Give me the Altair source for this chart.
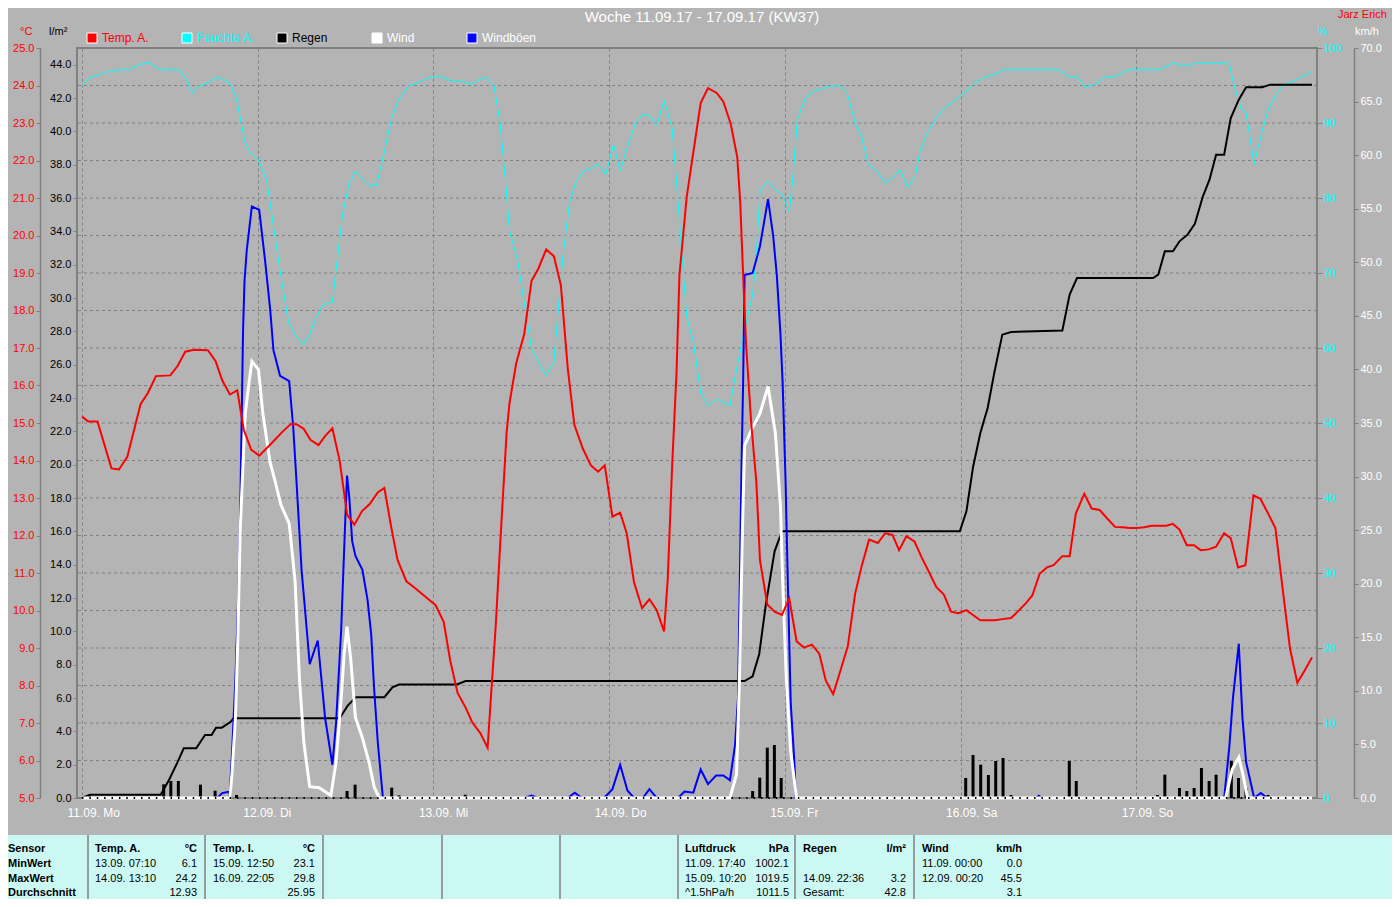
import altair as alt
import pandas as pd

# ---------------- data (hours since 11.09. 00:00) ----------------
temp_h = [0.0, 0.86, 2.12, 4.02, 5.06, 6.19, 8.0, 9.0, 10.1, 12.06, 13.05, 14.1, 15.3, 17.2, 18.25,
          19.15, 20.2, 21.2, 22.1, 23.1, 24.2, 25.7, 27.3, 28.5, 29.3, 30.3, 31.2, 32.3, 33.2, 34.2,
          35.2, 36.2, 37.2, 38.25, 39.3, 40.4, 41.3, 42.2, 43.1, 44.3, 45.35, 46.7, 48.3, 49.4, 50.3,
          51.3, 52.4, 53.3, 54.4, 55.4, 55.96, 56.5, 57.1, 57.45, 58.0, 58.4, 59.3, 60.4, 61.4, 62.3,
          63.4, 64.45, 65.4, 66.35, 67.25, 68.4, 69.5, 70.5, 71.4, 72.45, 73.5, 74.4, 75.4, 76.5, 77.5,
          78.5, 79.5, 80.0, 80.6, 81.2, 81.6, 82.1, 82.6, 83.5, 84.5, 85.5, 86.7, 87.6, 88.6, 89.5,
          89.9, 90.3, 90.7, 91.4, 92.1, 92.6, 93.6, 94.6, 95.6, 96.6, 97.6, 98.6, 99.7, 100.7, 101.6,
          102.6, 103.6, 104.6, 105.6, 106.5, 107.5, 108.7, 109.7, 110.7, 111.6, 112.6, 113.7, 114.7,
          115.7, 116.7, 117.7, 118.7, 119.7, 120.8, 121.7, 122.7, 123.7, 124.7, 125.7, 126.9, 127.8,
          128.9, 129.8, 130.8, 131.8, 132.7, 133.9, 134.9, 135.75, 136.9, 137.9, 139.0, 140.0, 141.1,
          142.1, 143.1, 144.0, 145.1, 146.1, 147.0, 148.1, 149.0, 149.9, 150.9, 151.9, 152.8, 153.9,
          154.9, 156.0, 156.9, 157.9, 158.9, 160.0, 160.95, 162.0, 163.0, 164.0, 165.0, 166.0, 167.0, 168.0]
temp_v = [15.17, 15.04, 15.04, 13.79, 13.76, 14.1, 15.5, 15.8, 16.25, 16.27, 16.52, 16.9, 16.95, 16.94, 16.65,
          16.14, 15.76, 15.87, 14.82, 14.29, 14.13, 14.42, 14.75, 14.97, 14.97, 14.84, 14.55, 14.41, 14.65, 14.86,
          13.99, 12.56, 12.29, 12.65, 12.84, 13.15, 13.27, 12.26, 11.35, 10.78, 10.62, 10.4, 10.14, 9.7, 8.66,
          7.8, 7.41, 7.02, 6.73, 6.34, 8.0, 9.56, 11.7, 12.9, 14.75, 15.54, 16.59, 17.37, 18.79, 19.1,
          19.63, 19.45, 18.68, 16.45, 14.95, 14.32, 13.87, 13.7, 13.87, 12.5, 12.61, 12.06, 10.75, 10.06, 10.3,
          10.01, 9.44, 10.82, 13.83, 16.32, 18.94, 19.99, 21.04, 22.22, 23.53, 23.93, 23.8, 23.57, 22.98, 22.09,
          20.91, 18.94, 17.11, 15.01, 13.44, 11.34, 10.16, 9.97, 9.88, 10.32, 9.18, 9.01, 9.09, 8.85, 8.13,
          7.77, 8.4, 9.05, 10.45, 11.19, 11.89, 11.8, 12.06, 12.02, 11.61, 11.98, 11.84, 11.41,
          11.02, 10.62, 10.43, 9.97, 9.93, 10.01, 9.88, 9.74, 9.74, 9.74, 9.77, 9.8, 9.97,
          10.19, 10.4, 10.98, 11.15, 11.21, 11.45, 11.45, 12.59, 13.11, 12.72, 12.68, 12.46, 12.23,
          12.22, 12.2, 12.2, 12.22, 12.26, 12.26, 12.26, 12.31, 12.16, 11.74, 11.74, 11.61, 11.63,
          11.7, 12.06, 11.93, 11.15, 11.21, 13.07, 12.98, 12.59, 12.2, 10.56, 8.98, 8.07, 8.4, 8.75]

hum_h = [0.05, 1.1, 2.4, 3.8, 5.15, 6.3, 7.4, 8.5, 9.44, 10.6, 11.9, 13.3, 14.2, 15.1, 16.0, 17.1, 18.3,
         19.15, 20.2, 21.1, 21.6, 22.2, 23.0, 24.1, 25.25, 26.15, 27.15, 28.2, 29.1, 30.2, 31.1, 32.0,
         32.95, 34.2, 34.7, 35.6, 36.45, 37.35, 38.3, 39.25, 40.2, 41.3, 42.3, 43.3, 44.6, 46.0, 47.4,
         48.95, 50.5, 52.1, 53.2, 54.4, 55.3, 56.3, 57.1, 57.8, 58.4, 59.5, 60.5, 61.4, 62.5, 63.4,
         64.45, 65.0, 65.7, 66.6, 67.5, 68.5, 69.5, 70.5, 71.5, 72.6, 73.5, 74.5, 75.6, 76.6, 77.5,
         78.5, 79.5, 80.6, 81.2, 81.9, 82.6, 83.5, 84.5, 85.5, 86.7, 88.5, 89.4, 90.5, 91.6, 92.1,
         92.6, 93.7, 94.6, 95.6, 96.6, 97.1, 97.7, 98.8, 100.1, 101.1, 102.4, 103.6, 104.5, 105.6,
         106.5, 107.4, 108.6, 109.7, 110.8, 111.7, 112.8, 113.8, 114.5, 115.6, 116.7, 117.8, 119.2,
         120.6, 121.9, 123.3, 124.6, 126.0, 129.6, 133.4, 135.0, 135.9, 136.9, 138.4, 139.7, 141.3,
         142.9, 147.2, 149.0, 150.8, 152.2, 156.7, 157.2, 158.3, 159.0, 160.1, 161.2, 162.1, 163.2,
         164.3, 166.2, 168.0]
hum_v = [94.95, 96.07, 96.46, 96.9, 97.1, 97.1, 97.57, 98.0, 97.9, 97.1, 97.1, 97.05, 95.9, 93.97, 94.95, 95.3, 96.07,
         95.9, 95.3, 93.3, 90.7, 87.7, 86.0, 85.1, 82.2, 76.3, 69.7, 63.5, 61.8, 60.4, 61.8, 64.1,
         65.8, 66.1, 70.4, 77.9, 81.8, 83.6, 82.5, 81.8, 81.6, 86.2, 90.7, 93.2, 94.95, 95.4, 96.07,
         96.26, 95.6, 95.5, 95.15, 95.9, 96.07, 94.8, 90.0, 82.8, 75.6, 71.7, 65.4, 59.9, 57.9, 56.3,
         58.2, 64.5, 72.3, 79.5, 82.2, 83.6, 84.0, 84.5, 83.1, 87.1, 83.6, 86.8, 89.9, 91.2, 91.0,
         89.7, 93.0, 89.4, 82.2, 73.0, 64.1, 60.85, 54.0, 52.3, 53.2, 52.3, 57.2, 62.5, 67.1, 72.3,
         80.9, 82.2, 81.2, 80.5, 78.2, 82.8, 90.4, 93.3, 94.3, 94.6, 94.95, 94.95, 94.0, 90.0,
         88.1, 84.5, 83.5, 82.0, 82.7, 83.8, 81.4, 82.8, 86.4, 89.0, 90.7, 92.0, 93.0,
         94.1, 95.4, 96.07, 96.5, 97.1, 97.1, 97.1, 96.07, 96.26, 94.8, 95.15, 96.07, 96.26,
         97.1, 97.1, 98.0, 97.6, 98.0, 97.9, 95.6, 91.9, 91.3, 84.5, 89.0, 92.0, 94.0,
         95.15, 95.9, 96.9]

rain_sum_h = [0.0, 1.1, 10.75, 11.9, 13.05, 13.9, 15.6, 16.8, 17.7, 18.3, 19.1, 20.3, 20.7, 35.2, 36.3,
              37.4, 41.3, 42.4, 43.3, 51.2, 52.4, 90.5, 91.6, 92.5, 93.4, 94.6, 95.6, 119.9, 120.8,
              121.7, 122.7, 123.7, 124.6, 125.7, 126.9, 133.9, 134.9, 135.9, 146.3, 147.0, 147.9,
              149.0, 149.9, 151.0, 152.0, 153.1, 154.0, 154.9, 156.0, 156.9, 158.0, 159.0, 161.2,
              162.3, 168.0]
rain_sum_v = [0.0, 0.2, 0.2, 1.1, 2.15, 2.98, 2.98, 3.78, 3.78, 4.22, 4.22, 4.57, 4.78, 4.78, 5.55,
              6.05, 6.05, 6.64, 6.81, 6.81, 7.02, 7.02, 7.3, 8.64, 11.6, 14.8, 16.0, 16.0, 17.2,
              19.85, 21.9, 23.4, 25.5, 27.8, 27.96, 28.05, 30.2, 31.2, 31.2, 31.4, 32.8,
              32.8, 33.4, 33.8, 34.45, 36.1, 37.1, 38.6, 38.6, 40.8, 41.9, 42.65, 42.65,
              42.8, 42.8]

rain_h = [1.0, 11.16, 12.13, 13.16, 16.18, 18.18, 20.2, 21.1, 36.2, 37.3, 42.3, 43.3, 52.35,
          91.6, 92.57, 93.6, 94.57, 95.5, 120.7, 121.7, 122.75, 123.8, 124.8, 125.8, 126.9,
          134.85, 135.8, 146.9, 147.9, 149.9, 150.9, 151.9, 152.9, 153.95, 154.9, 156.98,
          157.96, 158.98, 162.0]
rain_v = [0.2, 0.82, 1.02, 1.02, 0.8, 0.44, 0.42, 0.18, 0.42, 0.8, 0.62, 0.16, 0.2,
          0.42, 1.22, 3.02, 3.18, 1.2, 1.2, 2.58, 2.0, 1.38, 2.22, 2.4, 0.18,
          2.22, 1.02, 0.18, 1.4, 0.6, 0.42, 0.6, 1.8, 1.02, 1.4, 2.22,
          1.2, 0.6, 0.18]

wind_h = [0.0, 20.2, 20.5, 20.96, 21.3, 21.6, 22.0, 22.3, 22.8, 23.2, 24.1, 24.7, 25.7, 26.4, 27.15,
          28.3, 29.1, 29.7, 30.3, 31.1, 32.4, 34.0, 34.7, 35.4, 35.8, 36.2, 36.7, 37.35, 38.3, 39.2,
          39.9, 40.6, 88.5, 89.4, 89.8, 90.2, 90.5, 91.6, 92.6, 93.7, 94.7, 95.4, 95.7, 96.2, 96.8,
          97.6, 156.2, 157.1, 158.0, 158.5, 159.2, 168.0]
wind_v = [0, 0, 2.4, 7.5, 15.3, 24.9, 31.3, 35.9, 38.7, 40.75, 40.0, 35.9, 31.3, 29.5, 27.4,
          25.6, 20.3, 11.15, 5.2, 1.05, 0.96, 0.23, 3.35, 9.3, 13.4, 16.0, 13.0, 7.5, 5.6, 3.35,
          1.05, 0, 0, 2.2, 11.15, 24.9, 32.9, 34.6, 35.9, 38.4, 34.1, 27.2, 20.3, 11.15, 4.3,
          0, 0, 2.66, 3.8, 2.4, 0, 0]

gust_h = [0.0, 18.47, 19.15, 20.2, 20.5, 20.96, 21.3, 21.6, 22.0, 22.2, 22.5, 23.2, 24.2, 25.0, 25.7,
          26.15, 27.05, 28.3, 28.85, 29.3, 30.0, 30.7, 31.1, 32.2, 33.2, 34.2, 34.7, 35.4, 35.9,
          36.2, 36.5, 36.9, 37.35, 38.3, 39.0, 39.5, 39.9, 40.4, 41.1, 60.4, 61.4, 62.3, 66.35,
          67.3, 68.3, 71.3, 72.45, 73.5, 74.5, 75.4, 76.6, 77.5, 78.5, 81.4, 82.3, 83.5, 84.5,
          85.5, 86.6, 87.6, 88.5, 89.2, 89.6, 89.8, 90.1, 90.3, 90.5, 91.6, 92.6, 93.7, 94.4,
          94.9, 95.4, 95.7, 96.1, 96.4, 96.8, 97.3, 97.5, 130.3, 130.7, 131.1, 156.0, 156.7,
          157.2, 158.0, 158.5, 159.0, 160.1, 161.0, 161.9, 168.0]
gust_v = [0, 0, 0.46, 0.6, 4.3, 11.15, 18.0, 26.3, 43.7, 48.3, 51.1, 55.2, 54.9, 50.2, 45.6,
          41.8, 39.4, 38.9, 34.6, 29.5, 21.2, 15.7, 12.5, 14.7, 7.5, 3.1, 7.0, 15.7, 24.9,
          30.1, 28.1, 24.0, 22.6, 21.3, 18.5, 15.3, 10.2, 5.2, 0, 0, 0.23, 0, 0,
          0.5, 0, 0, 0.83, 3.1, 0.7, 0, 0, 0.83, 0, 0, 0.6, 0.5, 2.66,
          1.3, 2.1, 2.1, 1.65, 4.96, 9.3, 18.0, 31.8, 38.7, 48.8, 49.0, 51.5, 55.9, 52.5,
          48.8, 43.3, 38.7, 29.5, 20.3, 8.9, 3.35, 0, 0, 0.2, 0, 0, 4.7,
          9.3, 14.4, 7.5, 3.35, 0, 0.46, 0, 0]

day_labels = ["11.09. Mo", "12.09. Di", "13.09. Mi", "14.09. Do", "15.09. Fr", "16.09. Sa", "17.09. So"]
day_ticks = [0, 24, 48, 72, 96, 120, 144]
temp_ticks = [5.0 + i for i in range(21)]
rain_ticks = [2.0 * i for i in range(23)]
hum_ticks = [10 * i for i in range(11)]
wind_ticks = [5.0 * i for i in range(15)]

title_text = "Woche 11.09.17 - 17.09.17 (KW37)"
author_text = "Jarz Erich"
legend_labels = ["Temp. A.", "Feuchte A.", "Regen", "Wind", "Windböen"]
legend_colors = ["#FF0000", "#00FFFF", "#000000", "#FFFFFF", "#0000FF"]
legend_text_colors = ["#FF0000", "#00FFFF", "#000000", "#FFFFFF", "#FFFFFF"]

# summary table (text)
tbl_bold_left = [("Sensor", 8, 0), ("MinWert", 8, 1), ("MaxWert", 8, 2), ("Durchschnitt", 8, 3),
                 ("Temp. A.", 95, 0), ("Temp. I.", 213, 0), ("Luftdruck", 685, 0),
                 ("Regen", 803, 0), ("Wind", 922, 0)]
tbl_bold_right = [("°C", 197, 0), ("°C", 315, 0), ("hPa", 789, 0), ("l/m²", 906, 0), ("km/h", 1022, 0)]
tbl_left = [("13.09. 07:10", 95, 1), ("14.09. 13:10", 95, 2), ("15.09. 12:50", 213, 1),
            ("16.09. 22:05", 213, 2), ("11.09. 17:40", 685, 1), ("15.09. 10:20", 685, 2),
            ("^1.5hPa/h", 685, 3), ("14.09. 22:36", 803, 2), ("Gesamt:", 803, 3),
            ("11.09. 00:00", 922, 1), ("12.09. 00:20", 922, 2)]
tbl_right = [("6.1", 197, 1), ("24.2", 197, 2), ("12.93", 197, 3), ("23.1", 315, 1), ("29.8", 315, 2),
             ("25.95", 315, 3), ("1002.1", 789, 1), ("1019.5", 789, 2), ("1011.5", 789, 3),
             ("3.2", 906, 2), ("42.8", 906, 3), ("0.0", 1022, 1), ("45.5", 1022, 2), ("3.1", 1022, 3)]
tbl_separators = [88, 205, 323, 442, 560, 678, 795, 914]

# ---------------- layout (page pixels) ----------------
OX, OY = 77, 48          # plot origin on page
PW, PH = 1240, 750       # plot size
SVG_W, SVG_H = 1384, 891
ROW_Y = [849, 864, 879, 893]
TABLE_TOP, TABLE_BOTTOM = 835, 899
GRID = "#808080"
FONT = "Liberation Sans"
TFONT = "Liberation Sans"


def X(x):
    return x - OX


def Y(y):
    return y - OY


xscale = alt.Scale(domain=[0, 168], nice=False, zero=False)
label_expr = "[" + ",".join("'%s'" % s for s in day_labels) + "][round(datum.value/24)]"
xaxis = alt.Axis(values=day_ticks, labelExpr=label_expr, grid=True, gridColor=GRID, gridDash=[3, 3],
                 gridWidth=1, ticks=False, tickSize=0, domain=False, labelColor="white", labelFont=FONT,
                 labelFontSize=12, labelAlign="left", labelOffset=-15, labelBaseline="middle",
                 labelFlush=False, labelPadding=14, title=None, labelOverlap=False)


def yaxis(**kw):
    base = dict(title=None, grid=False, labelFont=FONT, labelFontSize=11, labelOverlap=False,
                tickColor=GRID, domainColor=GRID, domainWidth=1.5)
    base.update(kw)
    return alt.Axis(**base)


def series(h, v, color, width, domain, axis, name):
    df = pd.DataFrame({"h": h, name: v})
    return alt.Chart(df).mark_line(color=color, strokeWidth=width, interpolate="linear").encode(
        x=alt.X("h:Q", scale=xscale, axis=xaxis),
        y=alt.Y(f"{name}:Q", scale=alt.Scale(domain=domain, nice=False, zero=False), axis=axis),
    )


temp_axis = yaxis(orient="left", offset=37, values=temp_ticks, format=".1f", labelColor="#FF0000",
                  tickSize=4, labelPadding=2)
rain_axis = yaxis(orient="left", offset=0, values=rain_ticks, format=".1f", labelColor="#000000",
                  tickSize=4, labelPadding=2, domain=False)
hum_axis = yaxis(orient="right", offset=0, values=hum_ticks, format="d", labelColor="#00FFFF",
                 tickSize=5, labelPadding=1, domain=False)
wind_axis = yaxis(orient="right", offset=37, values=wind_ticks, format=".1f", labelColor="#FFFFFF",
                  tickSize=4, labelPadding=2)

# horizontal dashed grid on the temperature ticks
hgrid = alt.Chart(pd.DataFrame({"g": temp_ticks[1:-1]})).mark_rule(
    color=GRID, strokeDash=[3, 3], strokeWidth=1).encode(
    y=alt.Y("g:Q", scale=alt.Scale(domain=[5, 25], nice=False, zero=False), axis=None))

hum_layer = series(hum_h, hum_v, "#00FFFF", 1, [0, 100], hum_axis, "hum")

rain_bars = alt.Chart(pd.DataFrame({"h": rain_h, "rain": rain_v})).mark_bar(
    color="#000000", size=3).encode(
    x=alt.X("h:Q", scale=xscale, axis=xaxis),
    y=alt.Y("rain:Q", scale=alt.Scale(domain=[0, 45], nice=False), axis=None))

rain_sum_layer = series(rain_sum_h, rain_sum_v, "#000000", 2, [0, 45], rain_axis, "rsum")
gust_layer = series(gust_h, gust_v, "#0000FF", 2, [0, 70], None, "gust")
wind_layer = series(wind_h, wind_v, "#FFFFFF", 3, [0, 70], wind_axis, "wind")

baseline = alt.Chart(pd.DataFrame({"h": [0, 168], "b": [0, 0]})).mark_line(
    color="#000000", strokeWidth=2, strokeDash=[1.5, 5.88]).encode(
    x=alt.X("h:Q", scale=xscale, axis=xaxis),
    y=alt.Y("b:Q", scale=alt.Scale(domain=[0, 45], nice=False), axis=None))

temp_layer = series(temp_h, temp_v, "#FF0000", 2, [5, 25], temp_axis, "temp")


# ---------------- annotations ----------------
def text_layer(rows, align="left", font=FONT, weight="normal"):
    df = pd.DataFrame(rows, columns=["t", "px", "py", "c", "s"])
    return alt.Chart(df).mark_text(align=align, baseline="middle", font=font, fontWeight=weight).encode(
        x=alt.X("px:Q", scale=None, axis=None),
        y=alt.Y("py:Q", scale=None, axis=None),
        text="t:N",
        color=alt.Color("c:N", scale=None, legend=None),
        size=alt.Size("s:Q", scale=None, legend=None),
    )


def rect_layer(rows, stroke=None):
    df = pd.DataFrame(rows, columns=["x1", "x2", "y1", "y2", "c"])
    kw = dict(stroke=stroke, strokeWidth=1) if stroke else {}
    return alt.Chart(df).mark_rect(**kw).encode(
        x=alt.X("x1:Q", scale=None, axis=None), x2="x2:Q",
        y=alt.Y("y1:Q", scale=None, axis=None), y2="y2:Q",
        color=alt.Color("c:N", scale=None, legend=None),
    )


title_layer = text_layer([(title_text, X(702), Y(17), "#FFFFFF", 15)], align="center")

legend_x = [87, 182, 277, 372, 467]
top_texts = [(author_text, X(1338), Y(15), "#FF0000", 11),
             ("°C", X(20), Y(32), "#FF0000", 11),
             ("l/m²", X(49), Y(32), "#000000", 11),
             ("%", X(1318), Y(32), "#00FFFF", 11),
             ("km/h", X(1355), Y(32), "#FFFFFF", 11)]
top_texts += [(lab, X(lx + 15), Y(38), col, 12)
              for lab, lx, col in zip(legend_labels, legend_x, legend_text_colors)]
top_layer = text_layer(top_texts)

legend_boxes = rect_layer([(X(lx), X(lx + 10), Y(33), Y(43), col)
                           for lx, col in zip(legend_x, legend_colors)], stroke="#FFFFFF")

table_bg = rect_layer([(X(-10), X(1410), Y(TABLE_TOP), Y(TABLE_BOTTOM + 10), "#CCF8F4")])
sep_df = pd.DataFrame({"sx": [X(s) for s in tbl_separators],
                       "sy1": [Y(TABLE_TOP)] * len(tbl_separators),
                       "sy2": [Y(TABLE_BOTTOM + 10)] * len(tbl_separators)})
table_sep = alt.Chart(sep_df).mark_rule(color=GRID, strokeWidth=1.5).encode(
    x=alt.X("sx:Q", scale=None, axis=None),
    y=alt.Y("sy1:Q", scale=None, axis=None), y2="sy2:Q")


def tbl(rows):
    return [(t, X(x), Y(ROW_Y[r]), "#000000", 11) for t, x, r in rows]


tbl_layers = [
    text_layer(tbl(tbl_bold_left), align="left", font=TFONT, weight="bold"),
    text_layer(tbl(tbl_bold_right), align="right", font=TFONT, weight="bold"),
    text_layer(tbl(tbl_left), align="left", font=TFONT),
    text_layer(tbl(tbl_right), align="right", font=TFONT),
]

chart = alt.layer(
    hgrid, hum_layer, rain_bars, rain_sum_layer, gust_layer, wind_layer, baseline, temp_layer,
    table_bg, table_sep, legend_boxes, title_layer, top_layer, *tbl_layers
).resolve_scale(
    y="independent"
).properties(
    width=PW, height=PH,
    padding={"left": OX - 8, "top": OY - 8,
             "right": SVG_W - (OX - 8) - PW, "bottom": SVG_H - (OY - 8) - PH},
    autosize=alt.AutoSizeParams(type="none"),
    background="#B4B4B4",
).configure_view(
    stroke=GRID, strokeWidth=2
)

chart.save("out.html", embed_options={"renderer": "svg", "actions": False})
